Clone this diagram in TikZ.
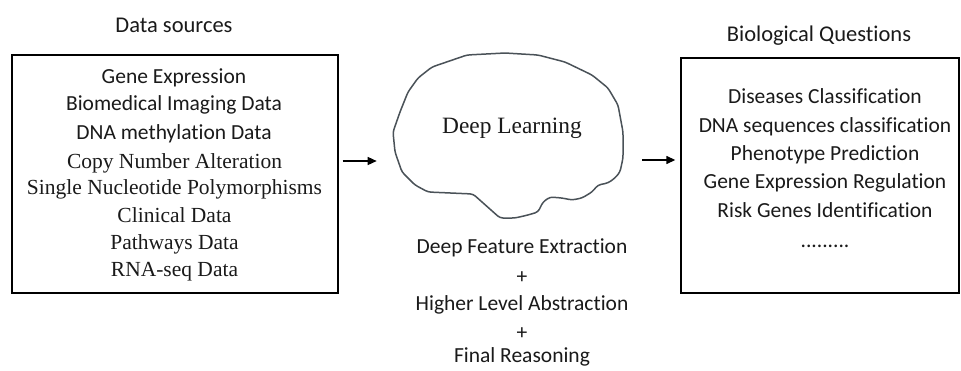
\documentclass[tikz,border=0pt]{standalone}
\usepackage{fontspec}
\newfontfamily\calfont[Ligatures={NoCommon,NoContextual}]{Carlito}
\newfontfamily\tmsfont{Liberation Serif}
\usetikzlibrary{arrows.meta}
\definecolor{txt}{HTML}{1A1A1A}
\definecolor{brainc}{HTML}{4A5258}
\begin{document}
\begin{tikzpicture}[x=1pt,y=-1pt,
  box/.style={draw=black,line width=1.4pt,inner sep=0pt},
  cal/.style={font=\calfont\fontsize{21.5}{24}\selectfont,text=txt,anchor=base,inner sep=0pt},
  tms/.style={font=\tmsfont\fontsize{21.5}{24}\selectfont,text=txt,anchor=base,inner sep=0pt},
  ttl/.style={font=\calfont\fontsize{22.5}{26}\selectfont,text=txt,anchor=base,inner sep=0pt},
  arr/.style={line width=1.4pt,-{Triangle[length=9pt,width=8pt]}}]
\useasboundingbox (0,0) rectangle (961,370);
\fill[white] (0,0) rectangle (961,370);
% boxes
\node[box,minimum width=326pt,minimum height=238pt] (src) at (175,174) {};
\node[box,minimum width=278pt,minimum height=235pt] (bio) at (820,175.5) {};
% titles
\node[ttl] (tsrc) at (174,32) {Data sources};
\node[ttl] (tbio) at (819,41) {Biological Questions};
% left texts
\node[cal] (l1) at (174,83) {Gene Expression};
\node[cal] (l2) at (174,110) {Biomedical Imaging Data};
\node[cal] (l3) at (174,139) {DNA methylation Data};
\node[tms] (l4) at (174.5,168) {Copy Number Alteration};
\node[tms] (l5) at (174.5,194) {Single Nucleotide Polymorphisms};
\node[tms] (l6) at (174.5,222) {Clinical Data};
\node[tms] (l7) at (174.5,249) {Pathways Data};
\node[tms] (l8) at (174.5,276) {RNA-seq Data};
% right texts
\node[cal] (r1) at (825,103) {Diseases Classification};
\node[cal] (r2) at (825,132) {DNA sequences classification};
\node[cal] (r3) at (825,160) {Phenotype Prediction};
\node[cal] (r4) at (825,188) {Gene Expression Regulation};
\node[cal] (r5) at (825,217) {Risk Genes Identification};
\node[cal] (r6) at (825,247) {.........};
% brain
\draw[brainc,line width=1.5pt,line join=round,rounded corners=3pt]
  (467,55) -- (505,53) -- (538,55) -- (565,62) -- (592,75) -- (608,88) -- (618,105)
  -- (623,132) -- (623,158) -- (620,172) -- (615,178) -- (608,183) -- (598,185)
  -- (592,192) -- (582,198) -- (572,200) -- (562,198) -- (550,197) -- (543,202)
  -- (538,212) -- (528,215) -- (515,218) -- (500,218) -- (473,194) -- (428,192)
  -- (415,185) -- (402,172) -- (395,152) -- (393,132) -- (400,112) -- (408,92)
  -- (418,78) -- (432,67) -- cycle;
\node[font=\tmsfont\fontsize{23.4}{26}\selectfont,text=txt,anchor=base,inner sep=0pt] (dl) at (512,133) {Deep Learning};
% bottom text
\node[cal] (b1) at (522,253) {Deep Feature Extraction};
\node[cal] (b2) at (522,283) {+};
\node[cal] (b3) at (522,310) {Higher Level Abstraction};
\node[cal] (b4) at (522,339) {+};
\node[cal] (b5) at (522,362) {Final Reasoning};
% arrows
\draw[arr] ([xshift=4pt]src.east |- 0,161) -- ++(34,0);
\draw[arr] (642,160) -- ([xshift=-5pt]bio.west |- 0,160);
\end{tikzpicture}
\end{document}
